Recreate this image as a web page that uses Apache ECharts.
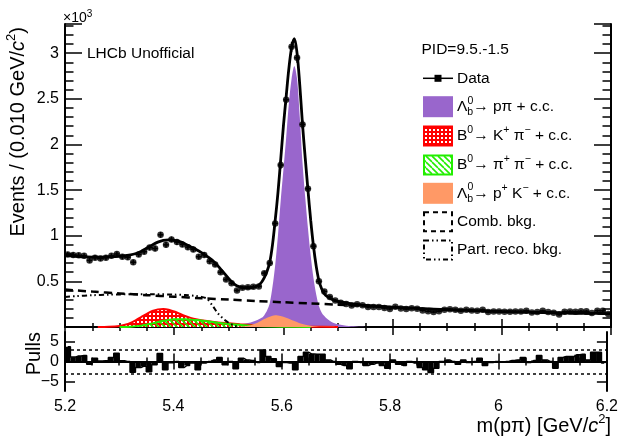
<!DOCTYPE html>
<html><head><meta charset="utf-8">
<script src="https://cdn.jsdelivr.net/npm/echarts@6/dist/echarts.min.js"></script>
<style>html,body{margin:0;padding:0;background:#fff}#c{width:621px;height:436px}</style>
</head><body><div id="c"></div>
<script>
// ---------- data (events in units of 10^3) ----------
const binCenters = [5.205,5.215,5.225,5.235,5.245,5.255,5.265,5.275,5.285,5.295,
 5.305,5.315,5.325,5.335,5.345,5.355,5.365,5.375,5.385,5.395,
 5.405,5.415,5.425,5.435,5.445,5.455,5.465,5.475,5.485,5.495,
 5.505,5.515,5.525,5.535,5.545,5.555,5.565,5.575,5.585,5.595,
 5.605,5.615,5.625,5.635,5.645,5.655,5.665,5.675,5.685,5.695,
 5.705,5.715,5.725,5.735,5.745,5.755,5.765,5.775,5.785,5.795,
 5.805,5.815,5.825,5.835,5.845,5.855,5.865,5.875,5.885,5.895,
 5.905,5.915,5.925,5.935,5.945,5.955,5.965,5.975,5.985,5.995,
 6.005,6.015,6.025,6.035,6.045,6.055,6.065,6.075,6.085,6.095,
 6.105,6.115,6.125,6.135,6.145,6.155,6.165,6.175,6.185,6.195];
const dataValues = [0.795,0.79,0.785,0.78,0.73,0.76,0.75,0.76,0.78,0.80,
 0.77,0.765,0.71,0.795,0.825,0.87,0.86,1.01,0.90,0.96,
 0.93,0.905,0.875,0.85,0.77,0.79,0.72,0.685,0.60,0.52,
 0.48,0.40,0.43,0.435,0.44,0.445,0.59,0.70,1.135,1.775,
 2.49,3.07,2.95,2.22,1.515,0.886,0.50,0.39,0.33,0.29,
 0.265,0.252,0.235,0.248,0.237,0.22,0.22,0.22,0.207,0.198,
 0.222,0.203,0.197,0.206,0.199,0.182,0.172,0.164,0.172,0.19,
 0.195,0.188,0.177,0.19,0.18,0.179,0.188,0.163,0.17,0.171,
 0.168,0.168,0.171,0.17,0.178,0.159,0.164,0.177,0.163,0.157,
 0.136,0.168,0.17,0.168,0.172,0.173,0.153,0.178,0.177,0.142];
const pullValues = [3.7,1.1,1.4,1.5,-0.7,0.8,0.1,0.2,1.0,2.1,
 0.2,0.0,-2.7,-1.5,-1.2,-2.6,-0.8,2.0,-2.1,-0.3,
 0.0,-1.5,-1.0,-0.4,-2.1,-0.4,0.0,0.4,1.0,-0.8,
 0.0,-1.8,0.8,0.4,0.25,-0.25,2.9,1.25,0.7,-1.25,
 -0.25,-0.4,-2.1,1.25,2.3,1.9,1.8,1.8,0.4,0.0,
 -0.7,-1.0,-1.8,0.0,-0.25,-1.0,-0.7,-0.4,-1.0,-1.7,
 0.4,-0.7,-1.0,0.0,-0.4,-1.5,-2.1,-2.75,-1.7,0.0,
 0.4,0.0,-0.7,0.4,-0.25,0.0,0.8,-1.0,-0.25,0.0,
 -0.15,0.0,0.25,0.4,1.0,-0.25,0.25,1.5,0.4,0.0,
 -1.7,1.0,1.25,1.25,1.7,1.8,0.4,2.3,2.3,-0.4];

const fitMass = [5.20,5.22,5.24,5.26,5.28,5.30,5.32,
 5.33,5.34,5.35,5.36,5.37,5.38,5.39,5.40,5.41,5.42,5.43,5.44,5.45,5.46,5.47,5.48,5.49,5.50,5.51,5.52,5.53,5.54,5.55,
 5.555,5.56,5.565,5.57,5.575,5.58,5.585,5.59,5.595,5.60,5.605,5.61,5.615,5.62,5.625,5.63,5.635,5.64,5.645,5.65,5.655,5.66,5.665,5.67,5.675,5.68,
 5.69,5.70,5.72,5.75,5.80,5.85,5.90,5.95,6.00,6.05,6.10,6.15,6.20];
const fitValues = [0.785,0.775,0.768,0.765,0.768,0.775,0.79,
 0.805,0.83,0.865,0.90,0.93,0.95,0.955,0.95,0.935,0.91,0.88,0.85,0.815,0.775,0.73,0.67,0.60,0.53,0.47,0.44,0.43,0.43,0.445,
 0.46,0.49,0.54,0.61,0.71,0.90,1.17,1.47,1.83,2.2,2.52,2.83,3.06,3.16,3.0,2.65,2.22,1.85,1.5,1.17,0.89,0.67,0.51,0.42,0.365,0.335,
 0.30,0.28,0.26,0.236,0.218,0.203,0.19,0.18,0.17,0.162,0.156,0.15,0.146];

const sigMass = [5.40,5.45,5.50,5.52,5.54,5.55,
 5.56,5.565,5.57,5.575,5.58,5.585,5.59,5.595,5.60,5.605,5.61,5.615,5.62,5.625,5.63,5.635,5.64,5.645,5.65,5.655,5.66,5.665,5.67,5.675,5.68,
 5.69,5.70,5.72,5.75];
const sigValues = [0.0,0.01,0.02,0.03,0.05,0.07,
 0.10,0.13,0.18,0.26,0.44,0.68,1.0,1.38,1.72,2.07,2.45,2.72,2.86,2.72,2.30,1.80,1.42,1.08,0.78,0.54,0.36,0.23,0.16,0.12,0.09,
 0.05,0.03,0.01,0.0];

const pkMass = [5.50,5.52,5.53,5.54,5.55,5.56,5.57,5.58,5.585,5.59,5.60,5.61,5.62,5.63,5.64,5.65,5.66,5.68,5.70];
const pkValues = [0.0,0.003,0.008,0.02,0.04,0.07,0.10,0.123,0.13,0.127,0.113,0.09,0.065,0.042,0.025,0.013,0.006,0.002,0.0];

const kpiMass = [5.26,5.28,5.30,5.31,5.32,5.33,5.34,5.35,5.36,5.37,5.38,5.39,5.40,5.41,5.42,5.43,5.44,5.46,5.48,5.50,5.52,5.55,5.60,5.65,5.70];
const kpiValues = [0.0,0.003,0.012,0.025,0.045,0.075,0.11,0.145,0.175,0.193,0.198,0.19,0.17,0.145,0.12,0.1,0.085,0.065,0.05,0.04,0.03,0.018,0.008,0.003,0.0];

const pipiMass = [5.30,5.32,5.34,5.35,5.36,5.37,5.38,5.39,5.40,5.42,5.44,5.46,5.48,5.50,5.52,5.54,5.56,5.60,5.65];
const pipiValues = [0.0,0.004,0.015,0.027,0.04,0.055,0.068,0.078,0.084,0.085,0.076,0.062,0.047,0.034,0.024,0.015,0.009,0.003,0.0];

const combMass = [5.20,5.25,5.30,5.35,5.40,5.45,5.50,5.55,5.60,5.65,5.70,5.75,5.80,5.85,5.90,5.95,6.00,6.05,6.10,6.15,6.20];
const combValues = [0.41,0.388,0.368,0.349,0.332,0.315,0.30,0.285,0.271,0.258,0.245,0.232,0.216,0.201,0.189,0.179,0.169,0.161,0.155,0.149,0.145];

const prMass = [5.20,5.22,5.25,5.28,5.30,5.33,5.36,5.40,5.42,5.44,5.45,5.46,5.47,5.48,5.49,5.50,5.51,5.52];
const prValues = [0.33,0.338,0.348,0.354,0.357,0.36,0.36,0.355,0.35,0.34,0.33,0.31,0.235,0.15,0.09,0.045,0.015,0.0];

const xTickLabels = [5.2,5.4,5.6,5.8,6.0,6.2];
const yTickLabels = [0.5,1,1.5,2,2.5,3];
const pullTickLabels = [-5,0,5];
const pullBands = [3,-3];

// ---------- helpers ----------
const FONT = "'Liberation Sans', Arial, Helvetica, sans-serif";
const zip = (a,b) => a.map((v,i)=>[v,b[i]]);

function redPattern(){
  const c=document.createElement('canvas'); c.width=4; c.height=4;
  const g=c.getContext('2d'); g.fillStyle='#ff0000'; g.fillRect(0,0,4,4);
  g.fillStyle='#ffffff'; g.fillRect(1,1,2,2); return c;
}
function greenPattern(){
  const c=document.createElement('canvas'); c.width=6; c.height=6;
  const g=c.getContext('2d'); g.strokeStyle='#22ee00'; g.lineWidth=1.6;
  for (const o of [-6,0,6]) { g.beginPath(); g.moveTo(o,0); g.lineTo(o+6,6); g.stroke(); }
  return c;
}
const RED = '#ff0000', GREEN = '#22ee00', PURPLE = '#9966cc', ORANGE = '#ff9966';
const redPat = {image: redPattern(), repeat:'repeat'};
const greenPat = {image: greenPattern(), repeat:'repeat'};

const rich = {
  t:{fontSize:15.5,fontFamily:FONT,lineHeight:22,color:'#000'},
  sup:{fontSize:10.5,fontFamily:FONT,lineHeight:11,verticalAlign:'top',color:'#000'},
  sub:{fontSize:10.5,fontFamily:FONT,lineHeight:11,verticalAlign:'bottom',color:'#000'}
};
const richBig = {
  t:{fontSize:20,fontFamily:FONT,lineHeight:26,color:'#000'},
  i:{fontSize:20,fontFamily:FONT,fontStyle:'italic',lineHeight:26,color:'#000'},
  sup:{fontSize:13,fontFamily:FONT,lineHeight:13,verticalAlign:'top',color:'#000'}
};
function txt(x,y,text,r,extra){
  return Object.assign({type:'text',x:x,y:y,silent:true,z:100,
    style:Object.assign({text:text,rich:r||rich,verticalAlign:'middle',align:'left',fill:'#000',font:'15.5px '+FONT},{})},extra||{});
}

// ---------- legend ----------
const LX = 423, LW = 30, LT = 457;
const rows = [78.3,106.7,136,165,193.3,221.7,250];
const g = [];
// Data
g.push({type:'line',shape:{x1:LX,y1:rows[0],x2:LX+LW,y2:rows[0]},style:{stroke:'#000',lineWidth:1.5},z:100});
g.push({type:'rect',shape:{x:LX+LW/2-3.5,y:rows[0]-3.5,width:7,height:7},style:{fill:'#000'},z:100});
g.push(txt(LT,rows[0],'{t|Data}'));
// boxes
const bh = 21;
g.push({type:'rect',shape:{x:LX,y:rows[1]-bh/2,width:LW,height:bh},style:{fill:PURPLE},z:100});
g.push({type:'rect',shape:{x:LX+1,y:rows[2]-bh/2+1,width:LW-2,height:bh-2},style:{fill:redPat,stroke:RED,lineWidth:2},z:100});
g.push({type:'rect',shape:{x:LX+1,y:rows[3]-bh/2+1,width:LW-2,height:bh-2},style:{fill:greenPat,stroke:GREEN,lineWidth:2},z:100});
g.push({type:'rect',shape:{x:LX,y:rows[4]-bh/2,width:LW,height:bh},style:{fill:ORANGE},z:100});
g.push({type:'rect',shape:{x:LX+1,y:rows[5]-bh/2+1,width:LW-2,height:bh-2},style:{fill:'none',stroke:'#000',lineWidth:2,lineDash:[5,4]},z:100});
g.push({type:'rect',shape:{x:LX+1,y:rows[6]-bh/2+1,width:LW-2,height:bh-2},style:{fill:'none',stroke:'#000',lineWidth:2,lineDash:[5,3,1.5,3,1.5,3]},z:100});
g.push(txt(LT,rows[1],'{t|Λ}{sub|b}{t|→ pπ + c.c.}'));
g.push(txt(LT+10.6,rows[1]-6,'0',null,{style:{text:'0',font:'10.5px '+FONT,fill:'#000',verticalAlign:'middle'}}));
g.push(txt(LT,rows[2],'{t|B}{sup|0}{t|→ K}{sup|+}{t| π}{sup|−}{t| + c.c.}'));
g.push(txt(LT,rows[3],'{t|B}{sup|0}{t|→ π}{sup|+}{t| π}{sup|−}{t| + c.c.}'));
g.push(txt(LT,rows[4],'{t|Λ}{sub|b}{t|→ p}{sup|+}{t| K}{sup|−}{t| + c.c.}'));
g.push(txt(LT+10.6,rows[4]-6,'0',null,{style:{text:'0',font:'10.5px '+FONT,fill:'#000',verticalAlign:'middle'}}));
g.push(txt(LT,rows[5],'{t|Comb. bkg.}'));
g.push(txt(LT,rows[6],'{t|Part. reco. bkg.}'));
g.push(txt(421.5,49.5,'{t|PID=9.5.-1.5}'));
g.push(txt(87,53.5,'{t|LHCb Unofficial}'));
// exponent
g.push(txt(63,18,'{t|×10}{sup|3}',{t:{fontSize:14,fontFamily:FONT,lineHeight:18,color:'#000'},sup:{fontSize:10,fontFamily:FONT,lineHeight:10,verticalAlign:'top',color:'#000'}}));
// axis titles
g.push({type:'text',x:18,y:27,rotation:Math.PI/2,silent:true,z:100,
  style:{text:'{t|Events / (0.010 GeV/}{i|c}{sup|2}{t|)}',rich:richBig,align:'right',verticalAlign:'middle'}});
g.push({type:'text',x:34,y:332,rotation:Math.PI/2,silent:true,z:100,
  style:{text:'{t|Pulls}',rich:richBig,align:'right',verticalAlign:'middle'}});
g.push({type:'text',x:611,y:426,silent:true,z:100,
  style:{text:'{t|m(pπ) [GeV/}{i|c}{sup|2}{t|]}',rich:richBig,align:'right',verticalAlign:'middle'}});

// ---------- axes ----------
const axLine = {show:true,lineStyle:{color:'#000',width:2}};
function xAx(grid,pos,labels){
  return {type:'value',gridIndex:grid,position:pos,min:5.2,max:6.2,interval:0.2,
    axisLine:axLine,splitLine:{show:false},
    axisTick:{show:true,inside:true,length:8,lineStyle:{color:'#000',width:1.5}},
    minorTick:{show:true,splitNumber:4,length:4,lineStyle:{color:'#000',width:1.5}},
    axisLabel:labels?{show:true,customValues:xTickLabels,fontSize:16,fontFamily:FONT,color:'#000',margin:8,
       formatter:v=>String(Math.round(v*10)/10)}:{show:false}};
}
function yMain(pos,major){
  return {type:'value',gridIndex:0,position:pos,min:0,max:3.32,interval:major?0.5:0.1,
    axisLine:major?axLine:{show:false},splitLine:{show:false},
    axisTick:{show:true,inside:true,length:major?17:8.5,lineStyle:{color:'#000',width:1.5}},
    axisLabel:(major&&pos==='left')?{show:true,customValues:yTickLabels,fontSize:16,fontFamily:FONT,color:'#000',margin:6}:{show:false}};
}
function yPull(pos){
  return {type:'value',gridIndex:1,position:pos,min:-7.4,max:7.4,
    axisLine:axLine,splitLine:{show:false},
    axisTick:{show:true,inside:true,length:10,customValues:pullTickLabels,lineStyle:{color:'#000',width:1.5}},
    axisLabel:pos==='left'?{show:true,customValues:pullTickLabels,fontSize:16,fontFamily:FONT,color:'#000',margin:6,
       formatter:v=>String(v).replace('-','−')}:{show:false}};
}

// ---------- series ----------
const lineBase = {type:'line',xAxisIndex:0,yAxisIndex:0,showSymbol:false,symbol:'none',silent:true,animation:false};
const series = [
  Object.assign({},lineBase,{name:'sig',data:zip(sigMass,sigValues),smooth:0.3,z:2,
    lineStyle:{width:0,color:PURPLE},areaStyle:{color:PURPLE,opacity:1}}),
  Object.assign({},lineBase,{name:'kpi',data:zip(kpiMass,kpiValues),smooth:0.3,z:3,
    lineStyle:{width:2,color:RED},areaStyle:{color:redPat,opacity:1}}),
  Object.assign({},lineBase,{name:'pipi',data:zip(pipiMass,pipiValues),smooth:0.3,z:4,
    lineStyle:{width:2,color:GREEN},areaStyle:{color:greenPat,opacity:1}}),
  Object.assign({},lineBase,{name:'pk',data:zip(pkMass,pkValues),smooth:0.3,z:5,
    lineStyle:{width:0,color:ORANGE},areaStyle:{color:ORANGE,opacity:1}}),
  Object.assign({},lineBase,{name:'comb',data:zip(combMass,combValues),smooth:0.3,z:6,
    lineStyle:{width:2.5,color:'#000',type:[8,5]}}),
  Object.assign({},lineBase,{name:'pr',data:zip(prMass,prValues),smooth:0.3,z:6,
    lineStyle:{width:2,color:'#000',type:[5,3,1.5,3,1.5,3]}}),
  Object.assign({},lineBase,{name:'fit',data:zip(fitMass,fitValues),smooth:0.35,z:7,
    lineStyle:{width:2.8,color:'#000'}}),
  {type:'custom',xAxisIndex:0,yAxisIndex:0,z:8,silent:true,animation:false,
    data:zip(binCenters,dataValues),encode:{x:0,y:1},
    renderItem:function(params,api){
      const x=api.value(0), y=api.value(1), e=Math.sqrt(y*1000)/1000;
      const a=api.coord([x-0.005,y]), b=api.coord([x+0.005,y]);
      const c=api.coord([x,y-e]), d=api.coord([x,y+e]);
      return {type:'group',children:[
        {type:'line',shape:{x1:a[0],y1:a[1],x2:b[0],y2:b[1]},style:{stroke:'#000',lineWidth:1.5}},
        {type:'line',shape:{x1:c[0],y1:c[1],x2:d[0],y2:d[1]},style:{stroke:'#000',lineWidth:1.5}}]};
    }},
  {type:'scatter',xAxisIndex:0,yAxisIndex:0,z:9,silent:true,animation:false,
    data:zip(binCenters,dataValues),symbol:'circle',symbolSize:6.5,itemStyle:{color:'#000'}},
  {type:'custom',xAxisIndex:2,yAxisIndex:4,z:3,silent:true,animation:false,
    data:zip(binCenters,pullValues),encode:{x:0,y:1},
    renderItem:function(params,api){
      const x=api.value(0), p=api.value(1);
      const a=api.coord([x-0.005,0]), b=api.coord([x+0.005,p]);
      return {type:'rect',shape:{x:a[0],y:Math.min(a[1],b[1]),width:b[0]-a[0],height:Math.abs(b[1]-a[1])},
        style:{fill:'#000'}};
    }},
  {type:'line',xAxisIndex:2,yAxisIndex:4,z:4,silent:true,animation:false,showSymbol:false,symbol:'none',
    step:'middle',data:zip(binCenters,pullValues),lineStyle:{color:'#000',width:1.5},
    markLine:{silent:true,symbol:['none','none'],label:{show:false},animation:false,
      lineStyle:{color:'#000',width:1.5,type:[3,3]},data:pullBands.map(v=>({yAxis:v}))}}
];

const option = {
  animation:false,
  backgroundColor:'#fff',
  grid:[{left:65,right:10,top:24,height:303},{left:65,right:10,top:332,height:59}],
  xAxis:[xAx(0,'bottom',false),xAx(0,'top',false),xAx(1,'bottom',true),xAx(1,'top',false)],
  yAxis:[yMain('left',true),yMain('left',false),yMain('right',true),yMain('right',false),yPull('left'),yPull('right')],
  series:series,
  graphic:g
};
const chart = echarts.init(document.getElementById('c'),null,{renderer:'canvas'});
chart.setOption(option);
</script></body></html>
